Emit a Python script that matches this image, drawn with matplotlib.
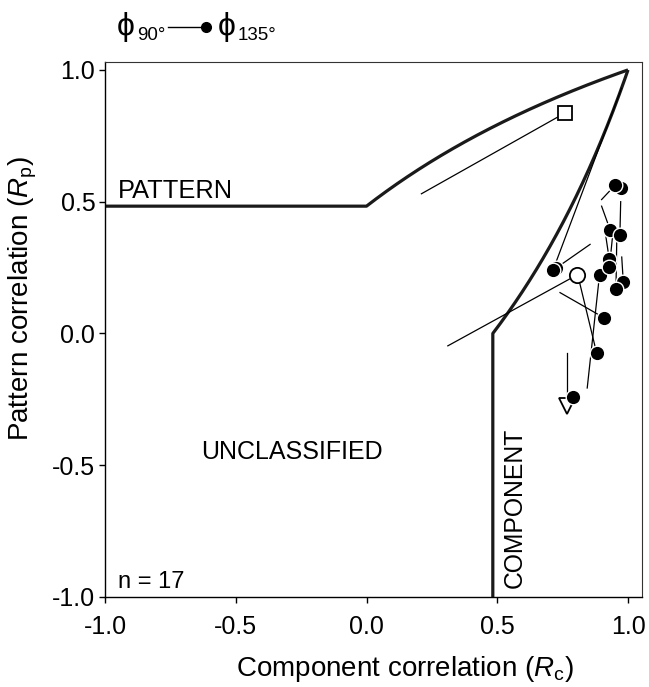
import numpy as np
import matplotlib
matplotlib.use("Agg")
import matplotlib.pyplot as plt
from matplotlib.lines import Line2D

plt.rcParams['font.family'] = ['Liberation Sans', 'DejaVu Sans']
plt.rcParams['axes.unicode_minus'] = False
plt.rcParams['mathtext.fontset'] = 'custom'
plt.rcParams['mathtext.rm'] = 'Liberation Sans'
plt.rcParams['mathtext.it'] = 'Liberation Sans:italic'

# ---- data: each cell, phi90 end (no marker) -> phi135 end (marker) ----
phi90_x  = [0.21, 0.855, 0.975, 0.311, 0.74, 0.812, 0.844, 0.765, 0.80,
            0.955, 0.899, 0.899, 0.972, 0.915, 0.94, 0.976, 0.957]
phi90_y  = [0.53, 0.338, 0.93, -0.047, 0.155, 0.205, -0.207, -0.074, -0.23,
            0.555, 0.508, 0.483, 0.50, 0.37, 0.36, 0.29, 0.356]
phi135_x = [0.758, 0.725, 0.713, 0.805, 0.909, 0.88, 0.891, 0.765, 0.788,
            0.973, 0.950, 0.932, 0.969, 0.928, 0.929, 0.982, 0.954]
phi135_y = [0.836, 0.248, 0.240, 0.222, 0.059, -0.074, 0.222, -0.275, -0.24,
            0.551, 0.562, 0.392, 0.375, 0.283, 0.252, 0.195, 0.170]
marker_kind = ['square', 'dot', 'dot', 'circle', 'dot', 'dot', 'dot', 'triangle', 'dot',
               'dot', 'dot', 'dot', 'dot', 'dot', 'dot', 'dot', 'dot']

r_crit = 0.483          # significance level of the classification boundary
n_cells = 17

xticks = [-1.0, -0.5, 0.0, 0.5, 1.0]
yticks = [-1.0, -0.5, 0.0, 0.5, 1.0]

# ---- figure ----
fig = plt.figure(figsize=(6.49, 6.87), dpi=100)
ax = fig.add_axes([105/649, 90/687, 537/649, 535/687])
ax.set_xlim(-1.0, 1.0535)
ax.set_ylim(-1.0, 1.03)

# classification boundaries
k = np.arctanh(r_crit)
t = np.linspace(0, 0.99999, 400)
curve = np.tanh(np.arctanh(t) + k)
px = np.concatenate([[-1.0, 0.0], t[1:], [1.0]])
py = np.concatenate([[r_crit, r_crit], curve[1:], [1.0]])
ax.plot(px, py, color='#1a1a1a', lw=2.3, solid_capstyle='butt', zorder=2)
ax.plot(py, px, color='#1a1a1a', lw=2.3, solid_capstyle='butt', zorder=2)

# cell trajectories
for x0, y0, x1, y1 in zip(phi90_x, phi90_y, phi135_x, phi135_y):
    ax.plot([x0, x1], [y0, y1], color='black', lw=0.9, zorder=3)

for x1, y1, kind in zip(phi135_x, phi135_y, marker_kind):
    if kind == 'dot':
        ax.plot(x1, y1, 'o', ms=10.5, mfc='black', mec='white', mew=1.0, zorder=4)
    elif kind == 'circle':
        ax.plot(x1, y1, 'o', ms=11, mfc='white', mec='black', mew=1.3, zorder=4)
    elif kind == 'square':
        ax.plot(x1, y1, 's', ms=10.5, mfc='white', mec='black', mew=1.3, zorder=4)
    elif kind == 'triangle':
        ax.plot(x1, y1, 'v', ms=11, mfc='white', mec='black', mew=1.3, zorder=4)

# region labels
ax.text(-0.95, 0.515, 'PATTERN', fontsize=18.3, ha='left', va='baseline')
ax.text(-0.285, -0.475, 'UNCLASSIFIED', fontsize=18, ha='center', va='baseline')
ax.text(0.565, -0.965, 'COMPONENT', fontsize=17.8, ha='center', va='bottom', rotation=90)
ax.text(-0.95, -0.965, 'n = %d' % n_cells, fontsize=17, ha='left', va='baseline')

# axes styling
ax.set_xticks(xticks)
ax.set_yticks(yticks)
ax.set_xticklabels(['%.1f' % v for v in xticks])
ax.set_yticklabels(['%.1f' % v for v in yticks])
ax.tick_params(direction='out', length=4, width=1, labelsize=18,
               top=False, right=False)
ax.tick_params(axis='x', pad=9)
ax.tick_params(axis='y', pad=3)
for s in ['left', 'bottom']:
    ax.spines[s].set_linewidth(1.0)
for s in ['top', 'right']:
    ax.spines[s].set_linewidth(0.8)
    ax.spines[s].set_color('#333333')

ax.set_xlabel(r'Component correlation ($R_{\mathrm{c}}$)', fontsize=20)
ax.set_ylabel(r'Pattern correlation ($R_{\mathrm{p}}$)', fontsize=20)
ax.xaxis.set_label_coords(0.558, -0.106)
ax.yaxis.set_label_coords(-0.123, 0.557)

# legend (top)
fig.text(117/649, 1 - 35.5/687, 'ϕ', fontsize=23, ha='left', va='baseline')
fig.text(137/649, 1 - 39.5/687, '90°', fontsize=13.5, ha='left', va='baseline')
fig.add_artist(Line2D([168/649, 204/649], [1 - 27/687, 1 - 27/687],
                      transform=fig.transFigure, color='black', lw=1.0))
fig.add_artist(Line2D([206/649], [1 - 27/687], transform=fig.transFigure,
                      marker='o', ms=7, mfc='black', mec='black', lw=0))
fig.text(218/649, 1 - 35.5/687, 'ϕ', fontsize=23, ha='left', va='baseline')
fig.text(238/649, 1 - 39.5/687, '135°', fontsize=13.5, ha='left', va='baseline')

fig.savefig('out.png', dpi=100)
